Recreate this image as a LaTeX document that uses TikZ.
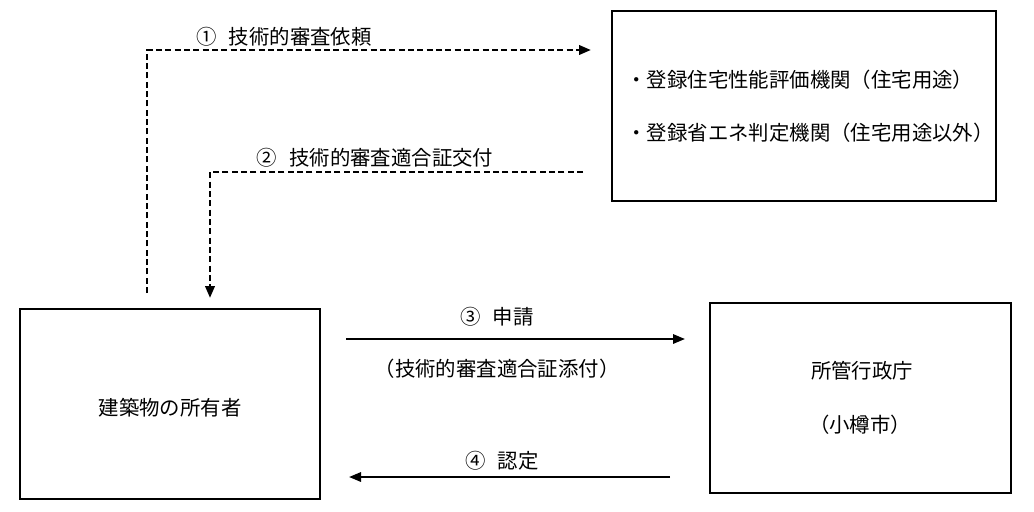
\documentclass[tikz,border=0pt]{standalone}
\usepackage{fontspec}
\setmainfont{Noto Sans CJK JP}
\usetikzlibrary{arrows.meta}

\tikzset{every picture/.style={line width=0.75pt}}
\tikzset{
  box/.style={draw, line width=0.9pt, inner sep=0pt},
  lbl/.style={font=\fontsize{15.3}{18}\selectfont, inner sep=0pt},
  flow/.style={line width=1.6pt, -{Triangle[length=9pt,width=7pt]}},
  dflow/.style={flow, line width=2pt, dash pattern={on 4.5pt off 2.5pt}}
}

\begin{document}
\begin{tikzpicture}[x=0.75pt,y=0.75pt,yscale=-1,xscale=1]
	\useasboundingbox (0,0) rectangle (1034,511);

	% Boxes
	\draw [box] (612,11) rectangle (996,201);
	\draw [box] (20,309) rectangle (320,499);
	\draw [box] (710,303) rectangle (1011,493);

	% Text Node
	\node [lbl, anchor=west] (hyoka) at (626,80) {・登録住宅性能評価機関（住宅用途）};
	% Text Node
	\node [lbl, anchor=west] (shoene) at (626,133) {・登録省エネ判定機関（住宅用途以外）};
	% Text Node
	\node [lbl] (owner) at (170,408) {建築物の所有者};
	% Text Node
	\node [lbl] (gyosei) at (862,371) {所管行政庁};
	% Text Node
	\node [lbl] (otaru) at (860,425) {（小樽市）};

	% Connector ends
	\coordinate (r1s) at (147,293);
	\coordinate (r1c) at (147,50);
	\coordinate (r1e) at (591,50);
	\coordinate (r2s) at (583,172);
	\coordinate (r2c) at (210,172);
	\coordinate (r2e) at (210,298);
	\coordinate (r3s) at (346,339);
	\coordinate (r3e) at (685,339);
	\coordinate (r4s) at (670,477);
	\coordinate (r4e) at (349,477);

	% Dashed Lines
	\draw [dflow] (r1s) -- (r1c) -- (r1e);
	\draw [dflow] (r2s) -- (r2c) -- (r2e);
	% Straight Lines
	\draw [flow] (r3s) -- (r3e);
	\draw [flow] (r4s) -- (r4e);

	% Text Node
	\node [lbl] (irai) at (284,37) {①\hspace{0.6em}技術的審査依頼};
	% Text Node
	\node [lbl] (kofu) at (375,158) {②\hspace{0.6em}技術的審査適合証交付};
	% Text Node
	\node [lbl] (shinsei) at (497,317) {③\hspace{0.6em}申請};
	% Text Node
	\node [lbl] (tenpu) at (497,369) {（技術的審査適合証添付）};
	% Text Node
	\node [lbl] (nintei) at (502,461) {④\hspace{0.6em}認定};

\end{tikzpicture}
\end{document}
